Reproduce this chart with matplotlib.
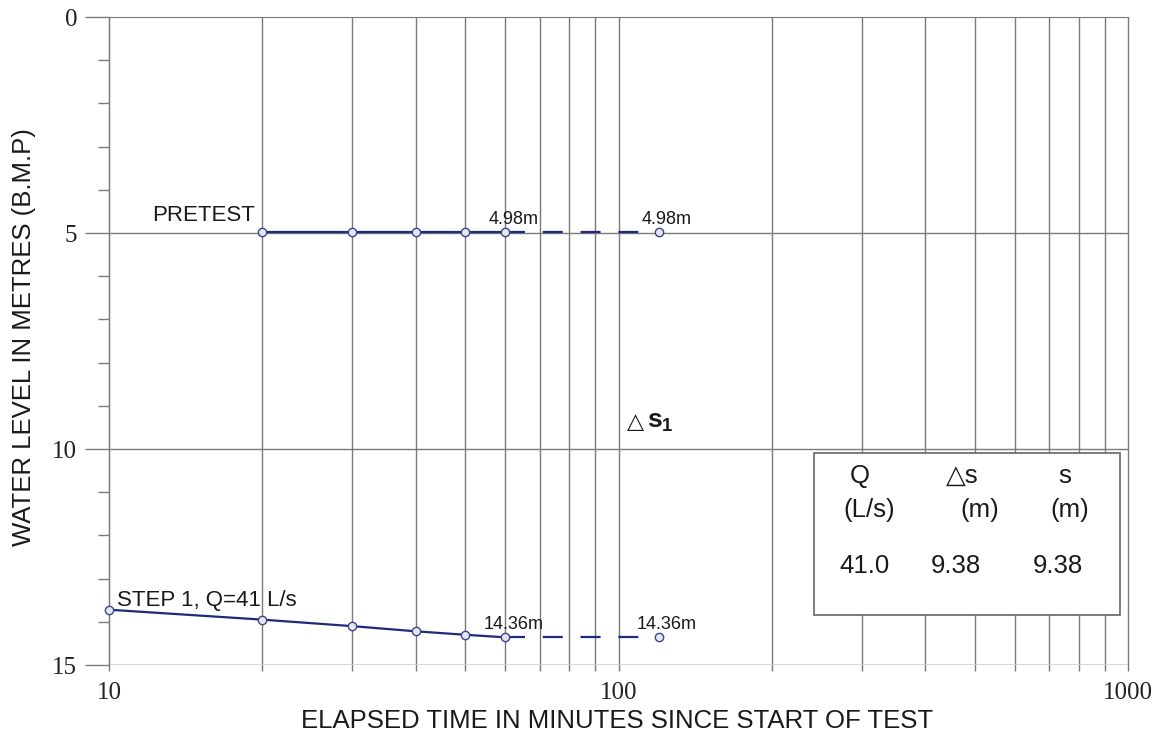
import matplotlib
matplotlib.use('Agg')
import matplotlib.pyplot as plt
from matplotlib.patches import Rectangle
from matplotlib.ticker import FixedLocator, NullLocator

plt.rcParams['font.family'] = ['Liberation Sans', 'DejaVu Sans']
plt.rcParams['mathtext.fontset'] = 'custom'
plt.rcParams['mathtext.rm'] = 'Liberation Sans'
plt.rcParams['mathtext.bf'] = 'Liberation Sans:bold'

#####
# Data

pretest_time = [20, 30, 40, 50, 60]
pretest_level = [4.98, 4.98, 4.98, 4.98, 4.98]
step1_time = [10, 20, 30, 40, 50, 60]
step1_level = [13.72, 13.95, 14.10, 14.22, 14.30, 14.36]
final_time = 120
pretest_final = 4.98
step1_final = 14.36

table_heads = [('Q', '(L/s)'), ('△s', '(m)'), ('s', '(m)')]
table_values = ['41.0', '9.38', '9.38']

x_labels = ['10', '100', '1000']
y_labels = ['0', '5', '10', '15']

#####
# Plot

navy = '#1f2b7a'
grid = '#7a7a7a'

fig = plt.figure(figsize=(11.57, 7.38), dpi=100)
ax = fig.add_axes([109 / 1157, 1 - 665 / 738, 1019 / 1157, 648 / 738])
ax.set_xscale('log')
ax.set_xlim(10, 1000)
ax.set_ylim(15, 0)

# log paper grid
grid_times = [m * 10 ** e for e in (1, 2) for m in range(1, 10)] + [1000]
ax.vlines(grid_times, 0, 15.15, colors=grid, lw=1, clip_on=False, zorder=1)
ax.hlines([5, 10], 10, 1000, colors=grid, lw=1, zorder=1)
ax.hlines(15, 10, 1000, colors='#d0d0d0', lw=1.2, zorder=1)

for side in ('right', 'bottom'):
    ax.spines[side].set_visible(False)
for side in ('left', 'top'):
    ax.spines[side].set_color(grid)

ax.set_xticks([float(v) for v in x_labels])
ax.set_xticklabels(x_labels)
ax.xaxis.set_minor_locator(NullLocator())
ax.tick_params(axis='x', length=0, pad=12, labelsize=18,
               labelfontfamily='Liberation Serif', labelcolor='#222222')

ax.set_yticks([float(v) for v in y_labels])
ax.set_yticklabels(y_labels)
ax.yaxis.set_minor_locator(FixedLocator([v for v in range(1, 15) if v % 5]))
ax.tick_params(axis='y', which='major', length=17, width=1, color=grid, pad=6,
               labelsize=18, labelfontfamily='Liberation Serif', labelcolor='#222222')
ax.tick_params(axis='y', which='minor', length=8, width=1, color=grid)

marker = dict(marker='o', ms=6, mfc='#e4e6f2', mec='#3c4688', mew=1)
dash = (0, (9, 8))

ax.plot(pretest_time, pretest_level, color=navy, lw=1.6, zorder=3, clip_on=False, **marker)
ax.plot([pretest_time[-1], final_time], [pretest_level[-1], pretest_final],
        color=navy, lw=1.6, ls=dash, zorder=2)
ax.plot([final_time], [pretest_final], ls='none', zorder=3, **marker)

ax.plot(step1_time, step1_level, color=navy, lw=1.6, zorder=3, clip_on=False, **marker)
ax.plot([step1_time[-1], final_time], [step1_level[-1], step1_final],
        color=navy, lw=1.6, ls=dash, zorder=2)
ax.plot([final_time], [step1_final], ls='none', zorder=3, **marker)

# annotations
txt = '#1a1a1a'
ax.text(19.35, 4.73, 'PRETEST', ha='right', va='baseline', fontsize=16, color=txt)

def level_label(x, y, value):
    ax.annotate('%.2fm' % value, xy=(x, y), xytext=(8, 0), textcoords='offset pixels',
                ha='center', va='baseline', fontsize=13, color=txt)

level_label(pretest_time[-1], 4.79, pretest_level[-1])
level_label(final_time, 4.79, pretest_final)

ax.text(10.37, 13.64, 'STEP 1, Q=41 L/s', ha='left', va='baseline', fontsize=16, color=txt)
level_label(step1_time[-1], 14.17, step1_level[-1])
level_label(final_time, 14.17, step1_final)

ax.text(104, 9.51, '△', family='DejaVu Sans', fontsize=16, va='baseline', color=txt)
ax.annotate(r'$\mathbf{s_1}$', xy=(104, 9.51), xytext=(20, 0), textcoords='offset pixels',
            fontsize=19, va='baseline', color=txt)

# results table
ax.add_patch(Rectangle((0.692, 0.077), 0.300, 0.250, transform=ax.transAxes,
                       facecolor='white', edgecolor='#666666', lw=1.2, zorder=4))
head_x = [(0.737, 0.746), (0.837, 0.855), (0.938, 0.943)]
value_x = [0.741, 0.831, 0.931]
for (top, unit), (x1, x2) in zip(table_heads, head_x):
    ax.text(x1, 0.281, top, transform=ax.transAxes, ha='center', va='baseline',
            fontsize=18.5, color=txt, zorder=5)
    ax.text(x2, 0.229, unit, transform=ax.transAxes, ha='center', va='baseline',
            fontsize=18.5, color=txt, zorder=5)
for val, x in zip(table_values, value_x):
    ax.text(x, 0.142, val, transform=ax.transAxes, ha='center', va='baseline',
            fontsize=18.5, color=txt, zorder=5)

fig.text(617 / 1157, 1 - 728 / 738, 'ELAPSED TIME IN MINUTES SINCE START OF TEST',
         ha='center', va='baseline', fontsize=18.5, color=txt)
fig.text(24 / 1157, 1 - 337 / 738, 'WATER LEVEL IN METRES (B.M.P)', rotation=90,
         ha='center', va='center', fontsize=18.5, color=txt)

fig.savefig('out.png', dpi=100)
